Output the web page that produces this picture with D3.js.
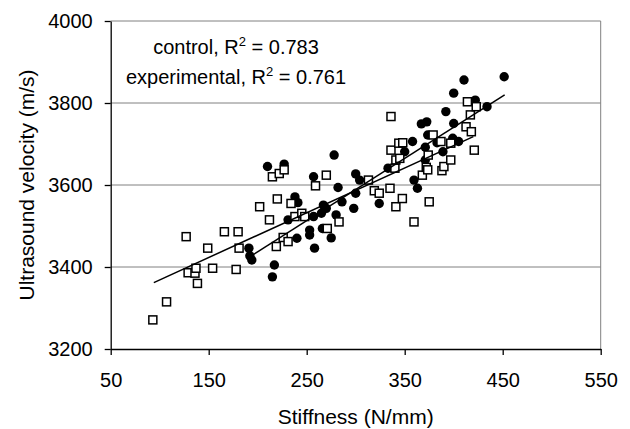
<!DOCTYPE html>
<html>
<head>
<meta charset="utf-8">
<script src="https://cdn.jsdelivr.net/npm/d3@7"></script>
<style>
  body { margin: 0; background: #fff; }
  text { font-family: "Liberation Sans", Arial, sans-serif; fill: #000; }
</style>
</head>
<body>
<script>
// experimental series (open squares): [stiffness, velocity]
var experimental = [
  [93, 3271], [107, 3315], [127, 3474], [129, 3386], [136, 3385], [137, 3397],
  [138.5, 3360], [149, 3446], [154, 3397], [166, 3486], [178, 3394], [180, 3486],
  [181, 3446], [202, 3547], [212, 3515], [215, 3620], [219, 3450], [220, 3566],
  [222, 3628], [226, 3472], [227, 3637], [231, 3462], [234, 3555], [238, 3523],
  [245, 3531], [248, 3523], [259, 3598], [270, 3624], [271, 3494], [283, 3510],
  [313, 3612], [319, 3586], [324, 3580], [335, 3592], [336, 3767], [336, 3685],
  [341, 3661], [340, 3641], [341, 3547], [344, 3702], [345, 3665], [348, 3703],
  [347.6, 3567], [359.5, 3510], [368, 3624], [372, 3643], [373.5, 3637], [374, 3673],
  [375, 3559], [379, 3722], [387, 3706], [388, 3635], [390, 3645], [397, 3702],
  [397, 3661], [412.6, 3742], [414, 3803], [417, 3771], [418, 3730], [421, 3685],
  [423, 3791]
];

// control series (filled circles)
var control = [
  [191, 3446], [192, 3427], [194, 3417], [210, 3645], [215, 3376], [217, 3405],
  [227, 3651], [231, 3515], [238, 3571], [241, 3557], [240, 3470], [253, 3490],
  [253, 3478], [257, 3620], [257, 3523], [258, 3446], [265, 3531], [267, 3551],
  [270, 3543], [266, 3494], [275, 3471], [278, 3673], [280, 3527], [282, 3594],
  [286, 3559], [298, 3543], [300, 3627], [300, 3580], [304, 3612], [324, 3555],
  [333, 3641], [350, 3681], [358, 3706], [359.5, 3612], [363, 3592], [367, 3749],
  [371, 3692], [371, 3661], [372.5, 3754], [373.5, 3722], [383, 3703], [389, 3681],
  [392, 3779], [399, 3714], [400, 3824], [400, 3750], [405, 3706], [410.5, 3856],
  [422, 3807], [434, 3791], [451.5, 3864]
];

// linear trendline end points
var trendControl = [[194, 3428], [452, 3820]];
var trendExperimental = [[94, 3362], [420, 3718]];

var xTicks = [50, 150, 250, 350, 450, 550];
var yTicks = [3200, 3400, 3600, 3800, 4000];
var legendLines = [
  { name: "control", r2: "0.783" },
  { name: "experimental", r2: "0.761" }
];

var width = 630, height = 429;
var margin = { top: 21, left: 110.7, right: 29.3, bottom: 80 };
var plotW = width - margin.left - margin.right,
    plotH = height - margin.top - margin.bottom;

var svg = d3.select("body").append("svg")
  .attr("width", width)
  .attr("height", height);

var x = d3.scaleLinear().domain([50, 550]).range([0, plotW]);
var y = d3.scaleLinear().domain([3200, 4000]).range([plotH, 0]);

var g = svg.append("g")
  .attr("transform", "translate(" + margin.left + "," + margin.top + ")");

// gridlines
g.selectAll(".grid")
  .data(yTicks.slice(1))
  .enter()
  .append("line")
  .attr("x1", 0)
  .attr("x2", plotW)
  .attr("y1", d => y(d))
  .attr("y2", d => y(d))
  .attr("stroke", "#808080")
  .attr("stroke-width", 1);

// right border
g.append("line")
  .attr("x1", plotW).attr("x2", plotW)
  .attr("y1", 0).attr("y2", plotH)
  .attr("stroke", "#808080")
  .attr("stroke-width", 1);

// axes
var fmt = d3.format("d");
var xAxis = g.append("g")
  .attr("transform", "translate(0," + plotH + ")")
  .call(d3.axisBottom(x).tickValues(xTicks).tickFormat(fmt).tickSize(6).tickPadding(18).tickSizeOuter(0));
var yAxis = g.append("g")
  .call(d3.axisLeft(y).tickValues(yTicks).tickFormat(fmt).tickSize(6).tickPadding(12).tickSizeOuter(0));

[xAxis, yAxis].forEach(function (a) {
  a.select(".domain").attr("stroke", "#000").attr("stroke-width", 1.3);
  a.selectAll(".tick line").attr("stroke", "#000").attr("stroke-width", 1.3);
  a.selectAll("text")
    .attr("fill", "#000")
    .style("font-size", "20px")
    .style("font-family", '"Liberation Sans", Arial, sans-serif');
});

// control circles
g.selectAll(".ctrl")
  .data(control)
  .enter()
  .append("circle")
  .attr("cx", d => x(d[0]))
  .attr("cy", d => y(d[1]))
  .attr("r", 4.7)
  .attr("fill", "#000");

// experimental squares
var s = 8;
g.selectAll(".exp")
  .data(experimental)
  .enter()
  .append("rect")
  .attr("x", d => x(d[0]) - s / 2)
  .attr("y", d => y(d[1]) - s / 2)
  .attr("width", s)
  .attr("height", s)
  .attr("fill", "#fff")
  .attr("stroke", "#000")
  .attr("stroke-width", 1.5);

// trendlines
var line = d3.line()
  .x(d => x(d[0]))
  .y(d => y(d[1]));

[trendControl, trendExperimental].forEach(function (t) {
  g.append("path")
    .attr("d", line(t))
    .attr("fill", "none")
    .attr("stroke", "#000")
    .attr("stroke-width", 1.5);
});

// R-squared annotation
var ann = g.append("g");
legendLines.forEach(function (l, i) {
  var t = ann.append("text")
    .attr("x", 236 - margin.left)
    .attr("y", 54 - margin.top + i * 30)
    .attr("text-anchor", "middle")
    .style("font-size", "20px");
  t.append("tspan").text(l.name + ", R");
  t.append("tspan").attr("dy", -8).style("font-size", "13px").text("2");
  t.append("tspan").attr("dy", 8).text(" = " + l.r2);
});

// axis titles
svg.append("text")
  .attr("x", margin.left + plotW / 2)
  .attr("y", 424)
  .attr("text-anchor", "middle")
  .style("font-size", "21px")
  .text("Stiffness (N/mm)");

svg.append("text")
  .attr("transform", "translate(34," + (margin.top + plotH / 2) + ") rotate(-90)")
  .attr("text-anchor", "middle")
  .style("font-size", "21px")
  .text("Ultrasound velocity (m/s)");
</script>
</body>
</html>
